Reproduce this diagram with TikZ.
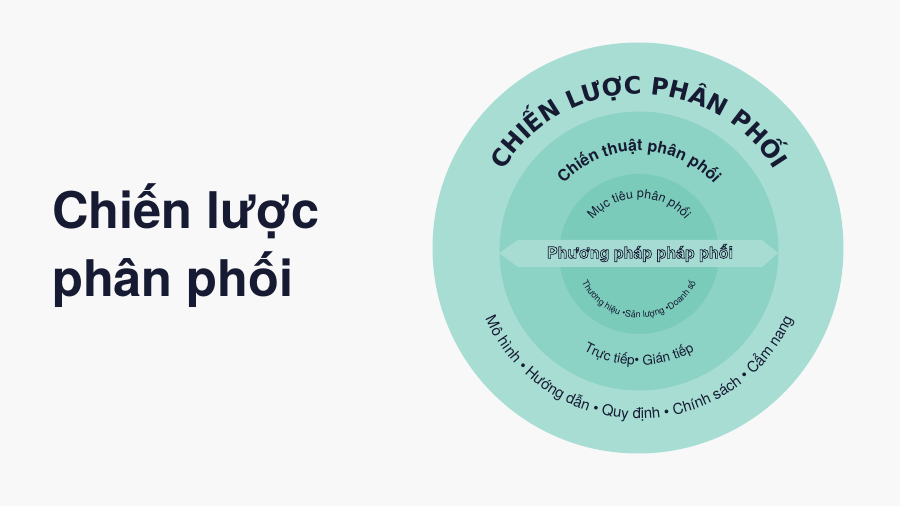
\documentclass[tikz,border=0pt]{standalone}
\usepackage{fontspec}
\setmainfont{TeX Gyre Heros}
\newfontfamily\capsfont{DejaVu Sans}
\usetikzlibrary{decorations.text}
\definecolor{bg}{HTML}{F8F8F8}
\definecolor{ringA}{HTML}{A8DDD4}
\definecolor{ringB}{HTML}{8DD3C5}
\definecolor{ringC}{HTML}{7BCBBB}
\definecolor{bannerfill}{HTML}{A9DDD4}
\definecolor{ink}{HTML}{161B33}
\newcommand\outlinedtext[1]{{\color{bannerfill}\special{pdf:literal direct 0.086 0.106 0.2 RG 0.7 w 2 Tr}#1\special{pdf:literal direct 0 Tr}}}
\tikzset{
  disc/.style={circle, inner sep=0pt, minimum size=#1},
  titletext/.style={anchor=base west, inner sep=0pt, text=ink, font=\bfseries\fontsize{50.5}{60}\selectfont},
}
\begin{document}
\begin{tikzpicture}[x=1pt,y=1pt]
\useasboundingbox (0,0) rectangle (900,506);
\fill[bg] (0,0) rectangle (900,506);

% title
\node[titletext] (title1) at (52,277) {Chiến lược};
\node[titletext] (title2) at (52,209) {phân phối};

% discs
\node[disc=411pt, fill=ringA] (outer) at (638,258) {};
\node[disc=279pt, fill=ringB] (middle) at (639,255) {};
\node[disc=160pt, fill=ringC] (inner) at (639,252) {};

% banner
\fill[bannerfill, opacity=0.92] (499,253) -- (518,266) -- (762,266) -- (778,253) -- (762,239) -- (518,239) -- cycle;
\node[inner sep=0pt, font=\bfseries\fontsize{16}{18}\selectfont] (method) at (640,253) {\outlinedtext{Phương pháp pháp phối}};

% arc texts
\path[decorate, decoration={text along path, text align=center, text color=ink,
  text={|\capsfont\bfseries\fontsize{24}{28}\selectfont|CHIẾN LƯỢC PHÂN PHỐI}}]
  (480,253) arc[start angle=180, end angle=0, radius=159];

\path[decorate, decoration={text along path, text align=center, text color=ink,
  text={|\bfseries\fontsize{16}{18}\selectfont|Chiến thuật phân phối}}]
  (537,253) arc[start angle=180, end angle=0, radius=102];

\path[decorate, decoration={text along path, text align=center, text color=ink,
  text={|\fontsize{12.5}{14}\selectfont|Mục tiêu phân phối}}]
  (579,248) arc[start angle=180, end angle=0, radius=60];

\path[decorate, decoration={text along path, text align=center, text color=ink,
  text={|\fontsize{9}{10}\selectfont|Thương hiệu •Sản lượng •Doanh số}}]
  (575,252) arc[start angle=180, end angle=360, radius=64];

\path[decorate, decoration={text along path, text align=center, text color=ink,
  text={|\fontsize{13.5}{15}\selectfont|Trực tiếp• Gián tiếp}}]
  (525,255) arc[start angle=180, end angle=360, radius=114];

\path[decorate, decoration={text along path, text align=center, text color=ink,
  text={|\fontsize{15}{17}\selectfont|Mô hình • Hướng dẫn • Quy định • Chính sách • Cẩm nang}}]
  (471,255) arc[start angle=180, end angle=360, radius=168];
\end{tikzpicture}
\end{document}
